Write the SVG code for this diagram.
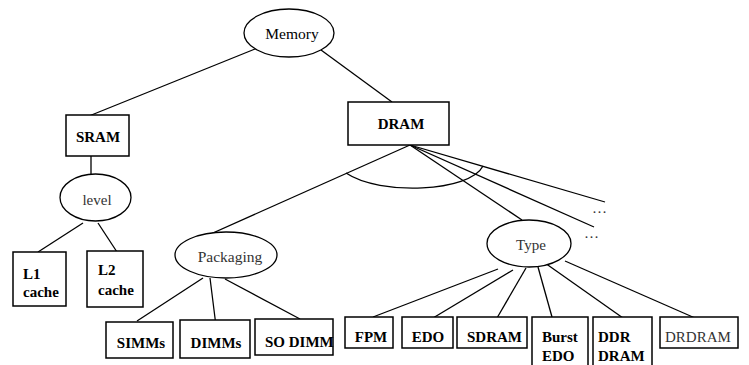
<svg xmlns="http://www.w3.org/2000/svg" width="749" height="365" viewBox="0 0 749 365">
<style>
.box{fill:#fff;stroke:#000;stroke-width:1.5}
.ell{fill:#fff;stroke:#000;stroke-width:1.3}
.ln{fill:none;stroke:#000;stroke-width:1.3}
text{font-family:'Liberation Serif','Times New Roman',Times,serif;font-size:15px}
.b{font-weight:bold;fill:#000}
.r{fill:#333}
.m{text-anchor:middle}
</style>
<rect width="749" height="365" fill="#fff"/>
<g id="connectors">
<line class="ln" x1="255" y1="49" x2="89" y2="116"/>
<line class="ln" x1="321" y1="50" x2="392" y2="102"/>
<line class="ln" x1="91" y1="156" x2="91" y2="174"/>
<line class="ln" x1="83" y1="223" x2="38" y2="252"/>
<line class="ln" x1="98" y1="223" x2="117" y2="252"/>
<line class="ln" x1="410" y1="145" x2="195" y2="241"/>
<line class="ln" x1="410" y1="145" x2="522" y2="220"/>
<line class="ln" x1="410" y1="145" x2="605" y2="202"/>
<line class="ln" x1="410" y1="145" x2="594" y2="227"/>
<path class="ln" d="M346,173 C380,196 470,192 483,166"/>
<line class="ln" x1="203" y1="278" x2="137" y2="321"/>
<line class="ln" x1="210" y1="278" x2="216" y2="326"/>
<line class="ln" x1="225" y1="279" x2="300" y2="319"/>
<line class="ln" x1="498" y1="269" x2="373" y2="317"/>
<line class="ln" x1="513" y1="270" x2="433" y2="318"/>
<line class="ln" x1="526" y1="268" x2="497" y2="318"/>
<line class="ln" x1="538" y1="267" x2="552" y2="317"/>
<line class="ln" x1="545" y1="263" x2="623" y2="318"/>
<line class="ln" x1="565" y1="261" x2="695" y2="318"/>
</g>
<g id="memory"><ellipse class="ell" cx="289" cy="33" rx="45" ry="24"/><text class="r m" x="292" y="39" style="fill:#000;font-size:15.5px">Memory</text></g>
<g id="sram"><rect class="box" x="66" y="115" width="63" height="41"/><text class="b m" x="98" y="142">SRAM</text></g>
<g id="dram"><rect class="box" x="348" y="102" width="101" height="43"/><text class="b m" x="401" y="129">DRAM</text></g>
<g id="level"><ellipse class="ell" cx="95.5" cy="197.5" rx="35.5" ry="23.5"/><text class="r m" x="97" y="205">level</text></g>
<g id="l1"><rect class="box" x="13" y="252" width="53" height="54"/><text class="b" x="23" y="279">L1</text><text class="b" x="23" y="297">cache</text></g>
<g id="l2"><rect class="box" x="87" y="251" width="56" height="56"/><text class="b" x="98" y="275">L2</text><text class="b" x="98" y="295">cache</text></g>
<g id="packaging"><ellipse class="ell" cx="226" cy="255" rx="51" ry="23"/><text class="r m" x="230" y="262" style="font-size:15.5px">Packaging</text></g>
<g id="type"><ellipse class="ell" cx="529" cy="243.5" rx="42" ry="23.5"/><text class="r m" x="531" y="250">Type</text></g>
<g id="dots1"><text class="r" x="592" y="213">…</text></g>
<g id="dots2"><text class="r" x="584" y="238">…</text></g>
<g id="simms"><rect class="box" x="106" y="322" width="67" height="36"/><text class="b m" x="141" y="348">SIMMs</text></g>
<g id="dimms"><rect class="box" x="180" y="320" width="70" height="38"/><text class="b m" x="216" y="348">DIMMs</text></g>
<g id="sodimm"><rect class="box" x="255" y="319" width="78" height="36"/><text class="b" x="265" y="347">SO DIMM</text></g>
<g id="fpm"><rect class="box" x="345" y="317" width="48" height="31"/><text class="b m" x="371" y="342">FPM</text></g>
<g id="edo"><rect class="box" x="402" y="317" width="51" height="31"/><text class="b m" x="428" y="342">EDO</text></g>
<g id="sdram"><rect class="box" x="457" y="317" width="70" height="31"/><text class="b" x="467" y="342">SDRAM</text></g>
<g id="burstedo"><rect class="box" x="532" y="317" width="56" height="50"/><text class="b" x="542" y="342">Burst</text><text class="b" x="542" y="361">EDO</text></g>
<g id="ddrdram"><rect class="box" x="593" y="317" width="59" height="50"/><text class="b" x="598" y="342">DDR</text><text class="b" x="598" y="361">DRAM</text></g>
<g id="drdram"><rect class="box" x="660" y="317" width="78" height="31"/><text class="r" x="665" y="342">DRDRAM</text></g>
</svg>
